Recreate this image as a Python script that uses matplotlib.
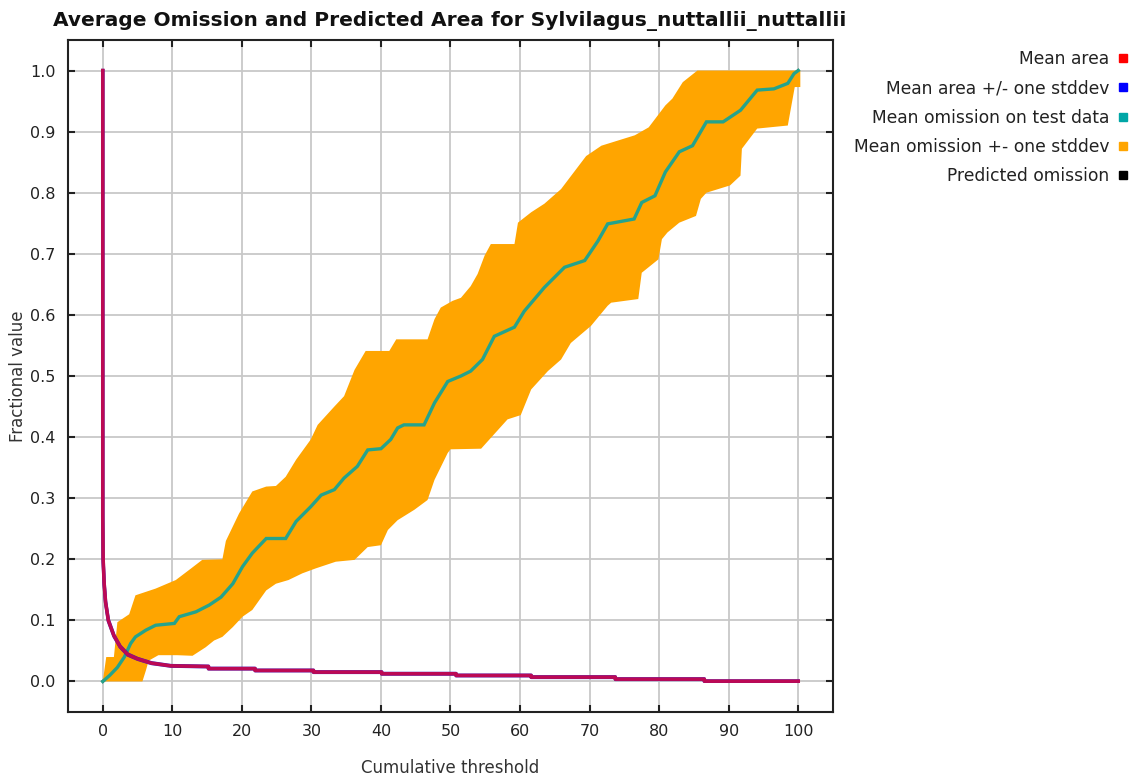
import matplotlib
matplotlib.use("Agg")
import matplotlib.pyplot as plt
from matplotlib.lines import Line2D
import numpy as np

# ---------------- data ----------------
title = "Average Omission and Predicted Area for Sylvilagus_nuttallii_nuttallii"
x_label = "Cumulative threshold"
y_label = "Fractional value"
x_ticks = [0, 10, 20, 30, 40, 50, 60, 70, 80, 90, 100]
y_ticks = [0.0, 0.1, 0.2, 0.3, 0.4, 0.5, 0.6, 0.7, 0.8, 0.9, 1.0]
legend_labels = ["Mean area", "Mean area +/- one stddev", "Mean omission on test data",
                 "Mean omission +- one stddev", "Predicted omission"]

# mean omission on test data
om_x = [0, 1, 2.1, 3.1, 4.0, 4.7, 6.2, 7.6, 10.3, 11, 13.4, 15.3, 17, 18.7, 20.1, 21.5,
        23.5, 26.3, 27.8, 29.9, 31.4, 33.3, 34.7, 36.6, 38.1, 40, 41.4, 42.4, 43.3, 46.2,
        47.7, 49.6, 51.5, 52.9, 54.6, 56.3, 59.2, 60.6, 63.5, 66.4, 69.3, 71.2, 72.6, 76.4,
        77.5, 79.4, 80.9, 82.9, 84.8, 86.8, 89.2, 91.7, 94.1, 96.5, 98.5, 99.4, 100]
om_y = [0, 0.01, 0.023, 0.04, 0.062, 0.073, 0.084, 0.092, 0.095, 0.106, 0.114, 0.125,
        0.138, 0.16, 0.188, 0.21, 0.234, 0.234, 0.262, 0.286, 0.305, 0.314, 0.333, 0.352,
        0.379, 0.381, 0.396, 0.415, 0.42, 0.42, 0.456, 0.491, 0.5, 0.508, 0.527, 0.565,
        0.58, 0.606, 0.645, 0.678, 0.689, 0.721, 0.749, 0.757, 0.784, 0.795, 0.834, 0.867,
        0.877, 0.916, 0.916, 0.935, 0.968, 0.97, 0.979, 0.995, 1.0]

# mean omission + one stddev
up_x = [0, 0.5, 1.6, 2.1, 3.8, 4.7, 7.6, 10.5, 12.7, 14.3, 17.2, 17.7, 19.6, 21.5, 23.5,
        24.9, 26.3, 27.8, 29.9, 30.9, 33.3, 34.7, 36.2, 37.8, 41.2, 42.2, 46.7, 47.7, 48.6,
        50.3, 51.5, 52.9, 53.9, 54.9, 55.8, 59.2, 59.7, 61.6, 63.5, 65.9, 67.5, 69.5, 71.7,
        76.5, 78.5, 80.9, 81.9, 83.4, 85.5, 100.3]
up_y = [0, 0.04, 0.04, 0.097, 0.11, 0.141, 0.152, 0.166, 0.185, 0.199, 0.2, 0.23, 0.275,
        0.311, 0.319, 0.32, 0.335, 0.363, 0.396, 0.42, 0.45, 0.467, 0.51, 0.541, 0.541, 0.56,
        0.56, 0.593, 0.612, 0.623, 0.628, 0.647, 0.667, 0.697, 0.716, 0.716, 0.751, 0.768,
        0.782, 0.806, 0.83, 0.86, 0.877, 0.894, 0.907, 0.943, 0.954, 0.981, 1.0, 1.0]

# mean omission - one stddev
lo_x = [0, 5.7, 6.2, 6.6, 8, 10.7, 12.9, 14.8, 16, 17.2, 18.7, 20.1, 21.5, 23.5, 24.9,
        26.7, 28.7, 30.6, 33.5, 36.2, 38.1, 40, 41, 42.4, 44.8, 46.7, 47.7, 49.6, 50, 54.4,
        56.3, 58.2, 60.1, 61.6, 64, 65.9, 67.3, 70.2, 72.6, 73.1, 77, 77.5, 79.9, 80.4,
        81.2, 82.9, 85.3, 86, 86.8, 90.2, 91.7, 91.9, 94.1, 98.5, 99.5, 100.3]
lo_y = [0, 0, 0.018, 0.034, 0.043, 0.043, 0.042, 0.056, 0.067, 0.073, 0.089, 0.106, 0.117,
        0.149, 0.16, 0.166, 0.177, 0.185, 0.196, 0.199, 0.22, 0.223, 0.248, 0.264, 0.281,
        0.297, 0.33, 0.374, 0.38, 0.381, 0.405, 0.429, 0.436, 0.478, 0.508, 0.527, 0.554,
        0.582, 0.615, 0.62, 0.626, 0.669, 0.691, 0.724, 0.735, 0.751, 0.762, 0.79, 0.8,
        0.812, 0.828, 0.872, 0.905, 0.91, 0.973, 0.973]

# mean predicted area
area_x = [0, 0, 0.05, 0.2, 0.4, 0.8, 1.6, 2.5, 3.6, 5, 7, 9.8, 15.2, 15.2, 21.9, 21.9,
          30.3, 30.3, 40.1, 40.1, 50.8, 50.8, 61.6, 61.6, 73.7, 73.7, 86.5, 86.5, 100]
area_y = [1.0, 0.27, 0.2, 0.16, 0.13, 0.1, 0.075, 0.057, 0.044, 0.037, 0.03, 0.0255,
          0.0245, 0.021, 0.021, 0.018, 0.018, 0.0153, 0.0153, 0.0126, 0.0126, 0.0098,
          0.0098, 0.0071, 0.0071, 0.0038, 0.0038, 0.0005, 0.0005]
area_sd = [0.0, 0.004, 0.003, 0.002, 0.0015, 0.0012, 0.001, 0.0008, 0.0008, 0.0006, 0.0006,
           0.0005, 0.0005, 0.0005, 0.0005, 0.0005, 0.0005, 0.0005, 0.0005, 0.0005, 0.0005,
           0.0005, 0.0005, 0.0005, 0.0005, 0.0005, 0.0005, 0.0003, 0.0003]

# predicted omission (straight line)
pred_x = [0, 100]
pred_y = [0, 1]

# ---------------- plot ----------------
plt.rcParams['font.family'] = ['DejaVu Sans']
fig = plt.figure(figsize=(11.46, 7.80), dpi=100)
ax = fig.add_axes([68 / 1146, 1 - 712 / 780, (833 - 68) / 1146, (712 - 40) / 780])

ax.set_xlim(-5, 105)
ax.set_ylim(-0.05, 1.05)
ax.set_xticks(x_ticks)
ax.set_yticks(y_ticks)
ax.set_xticklabels([str(t) for t in x_ticks])
ax.set_yticklabels(["%.1f" % t for t in y_ticks])
ax.grid(True, color='#c8c8c8', linewidth=1.3, zorder=0)
ax.set_axisbelow(True)
ax.tick_params(direction='in', length=5, width=1.5, top=True, right=True,
               labelsize=11.5, colors='#222222', pad=9)
for s in ax.spines.values():
    s.set_linewidth(1.5)
    s.set_color('#222222')

ax.plot(pred_x, pred_y, color='black', lw=2, zorder=1)

poly_x = list(up_x) + list(lo_x[::-1])
poly_y = list(up_y) + list(lo_y[::-1])
ax.fill(poly_x, poly_y, color='#FFA500', lw=0, zorder=2)

ax.plot(om_x, om_y, color='#25a38c', lw=2.4, zorder=3, solid_joinstyle='miter')

a_y = np.array(area_y)
a_sd = np.array(area_sd)
ax.plot(area_x, a_y + a_sd, color='#2020d0', lw=2.4, zorder=4)
ax.plot(area_x, a_y - a_sd, color='#2020d0', lw=2.4, zorder=4)
ax.plot(area_x, area_y, color='#ff0020', lw=2.6, alpha=0.7, zorder=5)

ax.set_xlabel(x_label, fontsize=12, color='#333333', labelpad=14)
ax.set_ylabel(y_label, fontsize=12, color='#333333', labelpad=2)
fig.text(450 / 1146, 1 - 21 / 780, title, ha='center', va='center', fontsize=14.5,
         fontweight='bold', color='#111111')

colors = ['#ff0000', '#0000ff', '#00a6a6', '#ffa500', '#000000']
handles = [Line2D([], [], linestyle='none', marker='s', markersize=6, markerfacecolor=c,
                  markeredgecolor=c) for c in colors]
leg = fig.legend(handles, legend_labels, loc='upper right',
                 bbox_to_anchor=(1128 / 1146, 1 - 50 / 780), markerfirst=False,
                 frameon=False, fontsize=12.3, labelspacing=0.66, handlelength=0.6,
                 handletextpad=0.5, borderaxespad=0, borderpad=0)
for t in leg.get_texts():
    t.set_color('#222222')
    t.set_ha('right')

fig.savefig('out.png', dpi=100)
